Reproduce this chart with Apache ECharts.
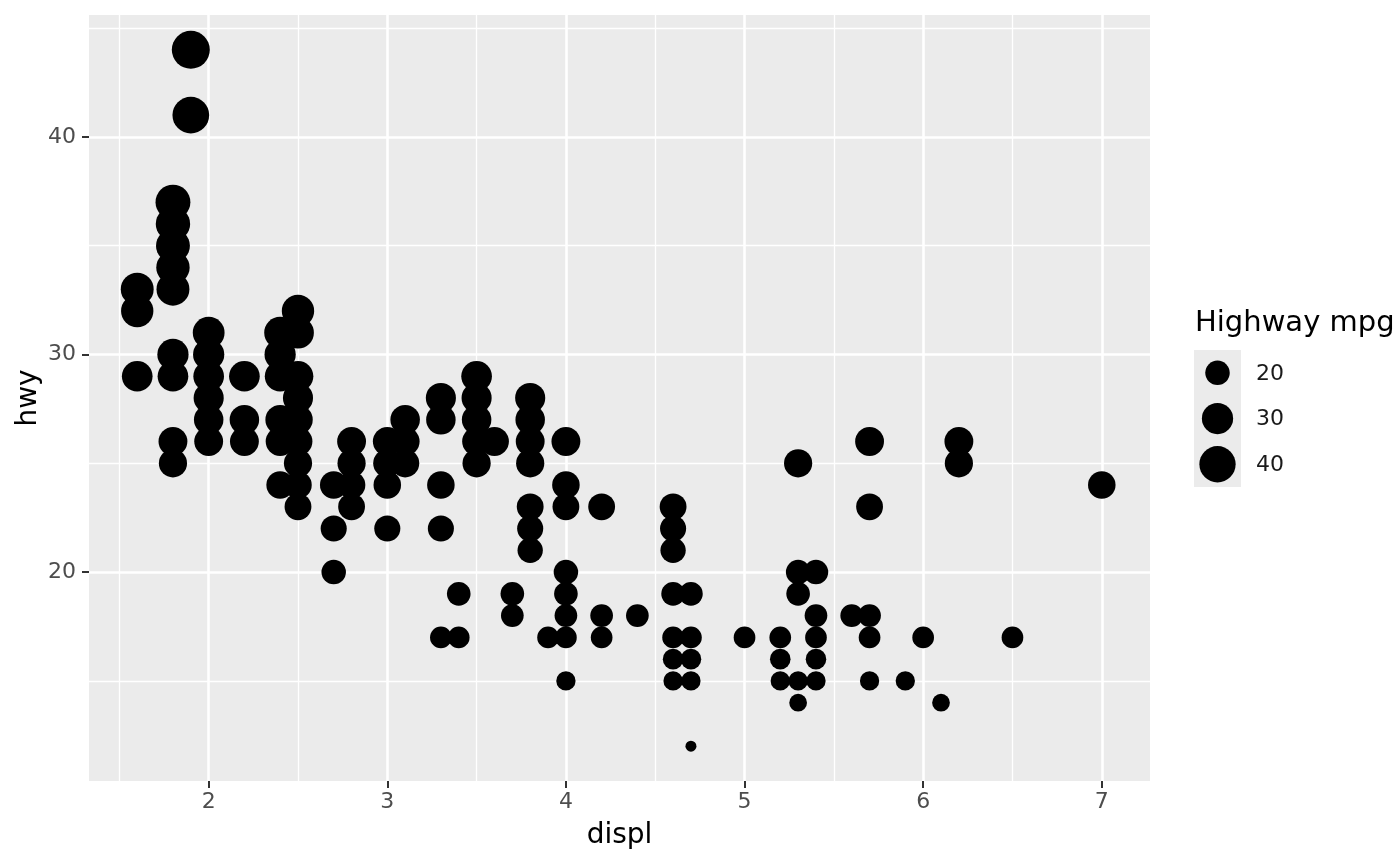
<!DOCTYPE html>
<html>
<head>
<meta charset="utf-8">
<script src="https://cdn.jsdelivr.net/npm/echarts@6/dist/echarts.min.js"></script>
<style>
html,body{margin:0;padding:0;background:#fff;}
#chart{width:1400px;height:866px;}
</style>
</head>
<body>
<div id="chart"></div>
<script>
// unique (displ, hwy) pairs
const displ = [
  1.6,1.6,1.6,
  1.8,1.8,1.8,1.8,1.8,1.8,1.8,1.8,1.8,
  1.9,1.9,
  2.0,2.0,2.0,2.0,2.0,2.0,
  2.2,2.2,2.2,
  2.4,2.4,2.4,2.4,2.4,2.4,
  2.5,2.5,2.5,2.5,2.5,2.5,2.5,2.5,2.5,
  2.7,2.7,2.7,
  2.8,2.8,2.8,2.8,
  3.0,3.0,3.0,3.0,
  3.1,3.1,3.1,
  3.3,3.3,3.3,3.3,3.3,
  3.4,3.4,
  3.5,3.5,3.5,3.5,3.5,
  3.6,
  3.7,3.7,
  3.8,3.8,3.8,3.8,3.8,3.8,3.8,
  3.9,
  4.0,4.0,4.0,4.0,4.0,4.0,4.0,4.0,
  4.2,4.2,4.2,
  4.4,
  4.6,4.6,4.6,4.6,4.6,4.6,4.6,
  4.7,4.7,4.7,4.7,4.7,
  5.0,
  5.2,5.2,5.2,
  5.3,5.3,5.3,5.3,5.3,
  5.4,5.4,5.4,5.4,5.4,
  5.6,
  5.7,5.7,5.7,5.7,5.7,
  5.9,
  6.0,
  6.1,
  6.2,6.2,
  6.5,
  7.0
];
const hwy = [
  33,32,29,
  37,36,35,34,33,30,29,26,25,
  44,41,
  31,30,29,28,27,26,
  29,27,26,
  31,30,29,27,26,24,
  32,31,29,28,27,26,25,24,23,
  24,22,20,
  26,25,24,23,
  26,25,24,22,
  27,26,25,
  28,27,24,22,17,
  19,17,
  29,28,27,26,25,
  26,
  19,18,
  28,27,26,25,23,22,21,
  17,
  26,24,23,20,19,18,17,15,
  23,18,17,
  18,
  23,22,21,19,17,16,15,
  19,17,16,15,12,
  17,
  17,16,15,
  25,20,19,15,14,
  20,18,17,16,15,
  18,
  26,23,18,17,15,
  15,
  17,
  14,
  26,25,
  17,
  24
];
const xMajor = [2, 3, 4, 5, 6, 7];
const xMinor = [1.5, 2.5, 3.5, 4.5, 5.5, 6.5];
const yMajor = [20, 30, 40];
const yMinor = [15, 25, 35, 45];
const legendBreaks = [20, 30, 40];
const legendTitle = 'Highway mpg';

const FONT = 'DejaVu Sans';
const hMin = Math.min(...hwy), hMax = Math.max(...hwy);
const dMin = Math.min(...displ), dMax = Math.max(...displ);
const xExp = (dMax - dMin) * 0.05, yExp = (hMax - hMin) * 0.05;

// ggplot-like area scale: size range 1..6, sqrt mapping -> pixel diameter
function sizeOf(v) {
  const s = 1 + 5 * Math.sqrt((v - hMin) / (hMax - hMin));
  return 5.4 * s + 5.6;
}

const points = displ.map((d, i) => [d, hwy[i]]);

function vLines(vals, w) { return vals.map(v => ({ xAxis: v, lineStyle: { width: w } })); }
function hLines(vals, w) { return vals.map(v => ({ yAxis: v, lineStyle: { width: w } })); }

const chart = echarts.init(document.getElementById('chart'), null, { renderer: 'canvas' });

const gridL = 89, gridT = 15, gridW = 1061, gridH = 766;

const keyX = 1194, keyY = 350, keyW = 47, keyH = 45.7;
const graphics = [
  { type: 'text', left: 1195, top: 309, style: { text: legendTitle, font: '29px "' + FONT + '"', fill: '#000' } },
  { type: 'rect', shape: { x: keyX, y: keyY, width: keyW, height: keyH * legendBreaks.length }, style: { fill: '#EBEBEB' } }
];
legendBreaks.forEach((b, i) => {
  const cy = keyY + keyH * (i + 0.5);
  graphics.push({ type: 'circle', shape: { cx: keyX + keyW / 2, cy: cy, r: sizeOf(b) / 2 }, style: { fill: '#000' } });
  graphics.push({ type: 'text', x: 1256, y: cy + 1, style: { text: String(b), font: '22px "' + FONT + '"', fill: '#1a1a1a', verticalAlign: 'middle', align: 'left' } });
});

chart.setOption({
  animation: false,
  backgroundColor: '#ffffff',
  textStyle: { fontFamily: FONT },
  grid: { left: gridL, top: gridT, width: gridW, height: gridH, show: true, backgroundColor: '#EBEBEB', borderWidth: 0 },
  xAxis: {
    type: 'value',
    min: dMin - xExp, max: dMax + xExp,
    name: 'displ', nameLocation: 'middle', nameGap: 41,
    nameTextStyle: { fontSize: 28, color: '#000', fontFamily: FONT },
    axisLine: { show: false },
    axisTick: { show: true, length: 7, lineStyle: { color: '#333333', width: 2 }, customValues: xMajor },
    axisLabel: { fontSize: 22, color: '#4D4D4D', margin: 10, fontFamily: FONT, customValues: xMajor },
    splitLine: { show: false }
  },
  yAxis: {
    type: 'value',
    min: hMin - yExp, max: hMax + yExp,
    name: 'hwy', nameLocation: 'middle', nameGap: 46, nameMoveOverlap: false,
    nameTextStyle: { fontSize: 28, color: '#000', fontFamily: FONT },
    axisLine: { show: false },
    axisTick: { show: true, length: 7, lineStyle: { color: '#333333', width: 2 }, customValues: yMajor },
    axisLabel: { fontSize: 22, color: '#4D4D4D', margin: 13, fontFamily: FONT, customValues: yMajor },
    splitLine: { show: false }
  },
  graphic: graphics,
  series: [
    {
      type: 'scatter', data: [], z: 1, silent: true,
      markLine: {
        silent: true, symbol: 'none', z: 1, animation: false,
        label: { show: false },
        lineStyle: { color: '#ffffff', type: 'solid', width: 1.3 },
        data: [].concat(vLines(xMinor, 1.3), hLines(yMinor, 1.3), vLines(xMajor, 2.6), hLines(yMajor, 2.6))
      }
    },
    {
      type: 'scatter', z: 3,
      data: points,
      symbol: 'circle',
      symbolSize: v => sizeOf(v[1]),
      itemStyle: { color: '#000000', opacity: 1 }
    }
  ]
});
</script>
</body>
</html>
